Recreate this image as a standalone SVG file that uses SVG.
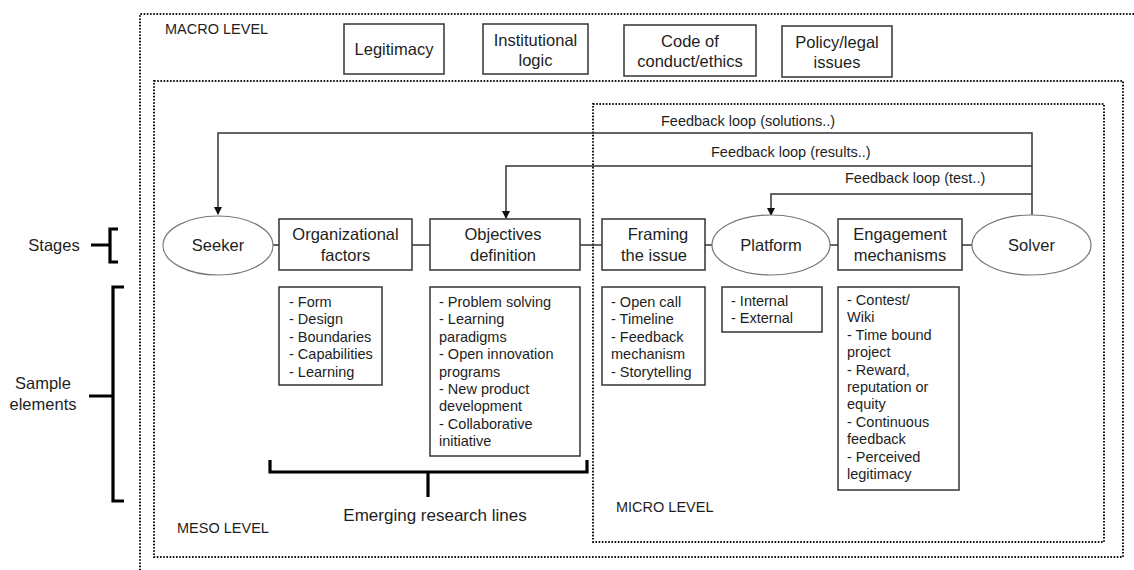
<svg xmlns="http://www.w3.org/2000/svg" width="1134" height="570" viewBox="0 0 1134 570">
<style>
text{font-family:"Liberation Sans",Arial,sans-serif;fill:#1e1e1e}
.lbl{font-size:16.5px;text-anchor:middle}
.lv{font-size:14.5px}
.fb{font-size:14.5px}
.li{font-size:14.5px}
.box{fill:#fff;stroke:#333;stroke-width:1.5}
.ell{fill:#fff;stroke:#777;stroke-width:1.2}
.dot{fill:none;stroke:#111;stroke-width:2;stroke-dasharray:1.6 1.6}
.con{fill:none;stroke:#333;stroke-width:1.5}
.brace{fill:none;stroke:#000;stroke-width:3.2}
</style>
<defs>
<marker id="ah" markerWidth="8" markerHeight="8" refX="7" refY="4" orient="auto" markerUnits="userSpaceOnUse">
<path d="M0,0 L8,4 L0,8 Z" fill="#111"/>
</marker>
</defs>
<rect width="1134" height="570" fill="#fff"/>

<g id="levels">
<path class="dot" d="M1134,14 H140 V570"/>
<rect class="dot" x="154" y="81" width="969" height="476"/>
<rect class="dot" x="593" y="104" width="511" height="438"/>
<text class="lv" x="165" y="34">MACRO LEVEL</text>
<text class="lv" x="177" y="533">MESO LEVEL</text>
<text class="lv" x="616" y="512">MICRO LEVEL</text>
</g>

<g id="macro-legitimacy"><rect class="box" x="344" y="24" width="100" height="50"/><text class="lbl" x="394" y="55">Legitimacy</text></g>
<g id="macro-institutional"><rect class="box" x="483" y="24" width="105" height="50"/><text class="lbl" x="535.5" y="46">Institutional</text><text class="lbl" x="535.5" y="66">logic</text></g>
<g id="macro-code"><rect class="box" x="624" y="25" width="132" height="51"/><text class="lbl" x="690" y="47">Code of</text><text class="lbl" x="690" y="67">conduct/ethics</text></g>
<g id="macro-policy"><rect class="box" x="782" y="26" width="110" height="51"/><text class="lbl" x="837" y="48">Policy/legal</text><text class="lbl" x="837" y="68">issues</text></g>

<g id="connectors">
<path class="con" d="M273,245 H279 M412,245 H430 M580,245 H602 M705,245 H712 M830,245 H838 M962,245 H972"/>
<path class="con" d="M1032,215 V133 H218 V214" marker-end="url(#ah)"/>
<path class="con" d="M1032,166 H506 V218" marker-end="url(#ah)"/>
<path class="con" d="M1032,194 H771 V215" marker-end="url(#ah)"/>
<text class="fb" x="661" y="126">Feedback loop (solutions..)</text>
<text class="fb" x="711" y="157">Feedback loop (results..)</text>
<text class="fb" x="845" y="183">Feedback loop (test..)</text>
</g>

<g id="seeker"><ellipse class="ell" cx="218" cy="245.5" rx="55" ry="29.5"/><text class="lbl" x="218" y="251">Seeker</text></g>
<g id="organizational-factors"><rect class="box" x="279" y="219" width="133" height="51"/><text class="lbl" x="345.5" y="240">Organizational</text><text class="lbl" x="345.5" y="261">factors</text></g>
<g id="objectives-definition"><rect class="box" x="430" y="219" width="150" height="51"/><text class="lbl" x="503" y="240">Objectives</text><text class="lbl" x="503" y="261">definition</text></g>
<g id="framing-the-issue"><rect class="box" x="602" y="219" width="103" height="51"/><text class="lbl" x="658" y="240">Framing</text><text class="lbl" x="654" y="261">the issue</text></g>
<g id="platform"><ellipse class="ell" cx="771" cy="245" rx="59" ry="30"/><text class="lbl" x="771" y="251">Platform</text></g>
<g id="engagement-mechanisms"><rect class="box" x="838" y="219" width="124" height="51"/><text class="lbl" x="900" y="240">Engagement</text><text class="lbl" x="900" y="261">mechanisms</text></g>
<g id="solver"><ellipse class="ell" cx="1031.5" cy="245" rx="59.5" ry="30"/><text class="lbl" x="1031.5" y="251">Solver</text></g>

<g id="stages-label">
<text class="lbl" x="54" y="251">Stages</text>
<path class="brace" d="M91,245 H110 M118,229 H110 V262 H118"/>
</g>
<g id="sample-elements-label">
<text class="lbl" x="43" y="389">Sample</text>
<text class="lbl" x="43" y="410">elements</text>
<path class="brace" d="M89,396 H113 M124,287 H113 V501 H124"/>
</g>

<g id="sample-org">
<rect class="box" x="279" y="287" width="103" height="98"/>
<text class="li" x="289" y="307">- Form<tspan x="289" dy="17.4">- Design</tspan><tspan x="289" dy="17.4">- Boundaries</tspan><tspan x="289" dy="17.4">- Capabilities</tspan><tspan x="289" dy="17.4">- Learning</tspan></text>
</g>
<g id="sample-objectives">
<rect class="box" x="430" y="287" width="150" height="169"/>
<text class="li" x="439" y="307">- Problem solving<tspan x="439" dy="17.4">- Learning</tspan><tspan x="439" dy="17.4">paradigms</tspan><tspan x="439" dy="17.4">- Open innovation</tspan><tspan x="439" dy="17.4">programs</tspan><tspan x="439" dy="17.4">- New product</tspan><tspan x="439" dy="17.4">development</tspan><tspan x="439" dy="17.4">- Collaborative</tspan><tspan x="439" dy="17.4">initiative</tspan></text>
</g>
<g id="sample-framing">
<rect class="box" x="602" y="287" width="103" height="98"/>
<text class="li" x="611" y="307">- Open call<tspan x="611" dy="17.4">- Timeline</tspan><tspan x="611" dy="17.4">- Feedback</tspan><tspan x="611" dy="17.4">mechanism</tspan><tspan x="611" dy="17.4">- Storytelling</tspan></text>
</g>
<g id="sample-platform">
<rect class="box" x="722" y="287" width="100" height="45"/>
<text class="li" x="731" y="306">- Internal<tspan x="731" dy="17.4">- External</tspan></text>
</g>
<g id="sample-engagement">
<rect class="box" x="838" y="287" width="121" height="203"/>
<text class="li" x="847" y="305">- Contest/<tspan x="847" dy="17.4">Wiki</tspan><tspan x="847" dy="17.4">- Time bound</tspan><tspan x="847" dy="17.4">project</tspan><tspan x="847" dy="17.4">- Reward,</tspan><tspan x="847" dy="17.4">reputation or</tspan><tspan x="847" dy="17.4">equity</tspan><tspan x="847" dy="17.4">- Continuous</tspan><tspan x="847" dy="17.4">feedback</tspan><tspan x="847" dy="17.4">- Perceived</tspan><tspan x="847" dy="17.4">legitimacy</tspan></text>
</g>

<g id="emerging-research-lines">
<path class="brace" d="M270,460 V472 H587 V460 M428,472 V497"/>
<text x="435" y="521" style="font-size:17px;text-anchor:middle">Emerging research lines</text>
</g>
</svg>
